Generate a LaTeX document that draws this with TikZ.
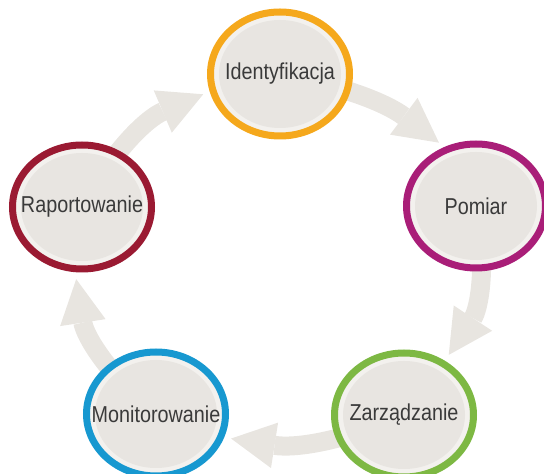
\documentclass[tikz,border=0pt]{standalone}
\usepackage{fontspec}
\setmainfont{Liberation Sans}[FakeStretch=0.86]
\usetikzlibrary{shapes.geometric, arrows.meta, backgrounds}

\definecolor{pierscien}{HTML}{F3F1EE}
\definecolor{wnetrze}{HTML}{E8E5E1}
\definecolor{strzalka}{HTML}{E8E5E0}
\definecolor{tekst}{HTML}{3A3A3A}
\definecolor{pomarancz}{HTML}{F5A81C}
\definecolor{purpura}{HTML}{A91E78}
\definecolor{bordo}{HTML}{9A1A32}
\definecolor{niebieski}{HTML}{1798D0}
\definecolor{zielony}{HTML}{7DB843}

\tikzset{
    etap/.style={
        ellipse, draw=#1, line width=7pt, fill=pierscien,
        minimum width=139pt, minimum height=124pt, inner sep=0pt,
        font=\fontsize{23}{27}\selectfont, text=tekst,
        path picture={\fill[wnetrze] (path picture bounding box.center) ellipse [x radius=61pt, y radius=54pt];}
    },
    przeplyw/.style={
        draw=strzalka, line width=19pt, shorten >=7pt,
        -{Triangle[length=44pt, width=46pt, line width=0pt]}
    }
}
\newcommand{\napis}[1]{\makebox[0pt]{#1}}

\begin{document}
\begin{tikzpicture}[x=1pt, y=1pt]
    \useasboundingbox (0,0) rectangle (544,474);
    % Etapy cyklu
    \node[etap=pomarancz] (ident) at (280,400) {\napis{Identyfikacja}};
    \node[etap=purpura] (pomiar) at (476,268) {\napis{Pomiar}};
    \node[etap=zielony] (zarz) at (404,59) {\napis{Zarządzanie}};
    \node[etap=niebieski] (monit) at (156,60) {\napis{Monitorowanie}};
    \node[etap=bordo] (raport) at (82,267) {\napis{Raportowanie}};
    % Strzalki
    \begin{scope}[on background layer]
        \draw[przeplyw] (ident.center) to[bend left=13] (pomiar.118);
        \draw[przeplyw] (pomiar.center) to[bend left=22] (zarz.53);
        \draw[przeplyw] (zarz.center) to[bend left=16] (monit.-19);
        \draw[przeplyw] (monit.center) to[bend left=21] (raport.264);
        \draw[przeplyw] (raport.center) to[bend left=19] (ident.194);
    \end{scope}
\end{tikzpicture}
\end{document}
